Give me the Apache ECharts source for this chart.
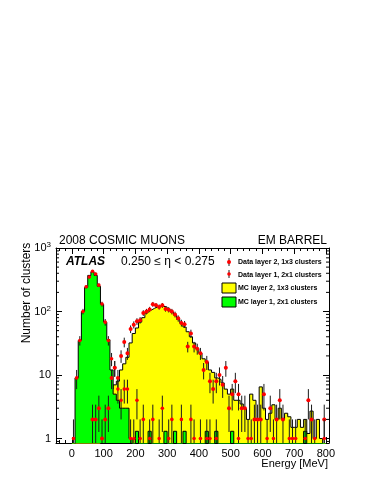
<!DOCTYPE html>
<html>
<head>
<meta charset="utf-8">
<script src="https://cdn.jsdelivr.net/npm/echarts@6/dist/echarts.min.js"></script>
<style>html,body{margin:0;padding:0;background:#fff}#main{width:374px;height:484px}</style>
</head>
<body>
<div id="main"></div>
<script>
// lower bin edges [MeV], 10 MeV bins
const binEdges = [0,10,20,30,40,50,60,70,80,90,100,110,120,130,140,150,160,170,180,190,
  200,210,220,230,240,250,260,270,280,290,300,310,320,330,340,350,360,370,380,390,
  400,410,420,430,440,450,460,470,480,490,500,510,520,530,540,550,560,570,580,590,
  600,610,620,630,640,650,660,670,680,690,700,710,720,730,740,750,760,770,780,790];
const binEnd = 800;

// MC layer 2, 1x3 clusters (yellow)
const mcLayer2 = [0,0,0,0,0,0,0,0,0,1,
  2,4,6,7,8,12,15,19,32,45,
  55,68,80,95,105,112,118,122,120,118,
  108,98,88,75,65,57,48,40,32,26,
  22,18,16,12,11,9,8.5,7.5,6,5,
  6,4,4,3.5,3,2,5,4,2,6.5,
  3,2,2.5,3.4,2,3,2,2.5,2.2,1.5,
  1.5,2,1.5,2,1.2,2.7,1,2,1,0];
// MC layer 1, 2x1 clusters (green)
const mcLayer1 = [0,9,35,100,240,370,420,370,250,130,
  68,36,12,5,4,3,3,3,1,0,
  1.3,0,0,0,1.3,0,0,0,0,1.3,
  0,0,1.3,0,0,1.3,0,0,0,0,
  0,0,1.3,0,0,1.3,0,0,0,0,
  1.3,0,0,0,0,0,0,0,0,0,
  0,0,0,0,0,0,0,0,0,0,
  0,0,0,1.3,0,0,0,0,0,0];
// Data layer 2, 1x3 clusters
const dataLayer2 = [0,0,0,0,0,0,2,2,3,1,
  2,3,9,13,9,20,33,22,53,62,
  70,73,95,100,108,130,125,118,125,110,
  107,100,90,78,66,63,28,45,28,26,
  22,12,16,8,6,8,10,7,13,3,
  5,8,5,3,3,0,0,2,2,2,
  5,0,3,0,2,4,2,0,0,0,
  0,0,0,0,4,2,0,0,0,2];
// Data layer 1, 2x1 clusters
const dataLayer1 = [1,9,35,100,245,350,430,390,260,131,
  68,35,18,13,6,4,6,6,1,1,
  4,1,2,0,1,2,0,1,3,0,
  1,2,0,0,2,0,0,2,1,0,
  1,0,1,1,0,1,0,0,0,0,
  0,0,1,0,0,1,1,0,0,0,
  0,1,0,1,0,0,0,0,1,1,
  1,0,0,1,0,0,1,0,0,1];

const yMinorTicks = [0.9,2,3,4,5,6,7,8,9,20,30,40,50,60,70,80,90,200,300,400,500,600,700,800,900];

const FONT = 'Liberation Sans';
const X_MIN = -50, X_MAX = 810, Y_MIN = 0.85, Y_MAX = 1000, FLOOR = 0.5;

function stepData(vals) {
  const d = binEdges.map((e, i) => [e, vals[i] > 0 ? vals[i] : FLOOR]);
  d.push([binEnd, FLOOR]);
  return d;
}
function pointData(vals) {
  const d = [];
  binEdges.forEach((e, i) => {
    if (vals[i] > 0) d.push([e + 5, vals[i], Math.sqrt(vals[i])]);
  });
  return d;
}
function histSeries(name, vals, fill, z) {
  return {
    name: name, type: 'line', step: 'end', data: stepData(vals),
    symbol: 'none', clip: true, z: z, animation: false,
    lineStyle: { color: '#000', width: 1 },
    areaStyle: { color: fill, opacity: 1, origin: 'start' }
  };
}
function pointsSeries(name, vals, r, z) {
  return {
    name: name, type: 'custom', data: pointData(vals), clip: true, z: z, animation: false,
    renderItem: function (params, api) {
      const x = api.value(0), v = api.value(1), err = api.value(2);
      const lo = v - err > Y_MIN * 0.5 ? v - err : FLOOR;
      const p = api.coord([x, v]);
      const pl = api.coord([x, lo]);
      const ph = api.coord([x, v + err]);
      return {
        type: 'group',
        children: [
          { type: 'line', shape: { x1: p[0], y1: pl[1], x2: p[0], y2: ph[1] }, style: { stroke: '#1a1a1a', lineWidth: 1 } },
          { type: 'circle', shape: { cx: p[0], cy: p[1], r: r }, style: { fill: '#ff0000' } }
        ]
      };
    }
  };
}

const chart = echarts.init(document.getElementById('main'));
const axisCommon = {
  type: 'value', min: X_MIN, max: X_MAX, splitNumber: 9,
  axisLine: { show: true, onZero: false, lineStyle: { color: '#000', width: 1 } },
  axisTick: { show: true, inside: true, length: 6, lineStyle: { color: '#000' } },
  minorTick: { show: true, splitNumber: 5, length: 3, lineStyle: { color: '#000' } },
  splitLine: { show: false }
};
const yCommon = {
  type: 'log', min: Y_MIN, max: Y_MAX, logBase: 10,
  axisLine: { show: true, onZero: false, lineStyle: { color: '#000', width: 1 } },
  axisTick: { show: true, inside: true, length: 6, lineStyle: { color: '#000' } },
  splitLine: { show: false }
};

chart.setOption({
  animation: false,
  backgroundColor: '#fff',
  grid: { left: 56, top: 248, right: 45, bottom: 41 },
  xAxis: [
    Object.assign({}, axisCommon, {
      position: 'bottom',
      axisLabel: { show: true, margin: 5, fontSize: 11, fontFamily: FONT, color: '#000',
        showMinLabel: false, showMaxLabel: false,
        formatter: v => (v % 100 === 0 ? String(v) : '') }
    }),
    Object.assign({}, axisCommon, { position: 'top', axisLabel: { show: false } })
  ],
  yAxis: [
    Object.assign({}, yCommon, {
      position: 'left',
      axisLabel: {
        show: true, margin: 5, fontSize: 11, fontFamily: FONT, color: '#000', showMinLabel: false,
        formatter: function (v) {
          if (Math.abs(v - 1) < 1e-6) return '1';
          if (Math.abs(v - 10) < 1e-6) return '10';
          if (Math.abs(v - 100) < 1e-6) return '{b|10}{s|2}';
          if (Math.abs(v - 1000) < 1e-6) return '{b|10}{s|3}';
          return '';
        },
        rich: {
          b: { fontSize: 11, fontFamily: FONT, color: '#000' },
          s: { fontSize: 8, fontFamily: FONT, color: '#000', padding: [0, 0, 6, 0] }
        }
      }
    }),
    Object.assign({}, yCommon, { position: 'right', axisLabel: { show: false } })
  ],
  series: [
    histSeries('MC layer 2, 1x3 clusters', mcLayer2, '#ffff00', 2),
    histSeries('MC layer 1, 2x1 clusters', mcLayer1, '#00ff00', 3),
    pointsSeries('Data layer 2, 1x3 clusters', dataLayer2, 2, 5),
    pointsSeries('Data layer 1, 2x1 clusters', dataLayer1, 1.8, 5),
    {
      name: 'minor ticks', type: 'custom', z: 6, clip: false, silent: true,
      data: yMinorTicks.map(v => [0, v]),
      renderItem: function (params, api) {
        const v = api.value(1);
        const l = api.coord([X_MIN, v]);
        const r = api.coord([X_MAX, v]);
        return {
          type: 'group',
          children: [
            { type: 'line', shape: { x1: l[0], y1: l[1], x2: l[0] + 3, y2: l[1] }, style: { stroke: '#000', lineWidth: 1 } },
            { type: 'line', shape: { x1: r[0] - 3, y1: r[1], x2: r[0], y2: r[1] }, style: { stroke: '#000', lineWidth: 1 } }
          ]
        };
      }
    }
  ],
  graphic: [
    { type: 'text', style: { text: '2008 COSMIC MUONS', x: 59, y: 241, font: '12px ' + FONT, fill: '#000', textAlign: 'left', textVerticalAlign: 'middle' } },
    { type: 'text', style: { text: 'EM BARREL', x: 327, y: 241, font: '12px ' + FONT, fill: '#000', textAlign: 'right', textVerticalAlign: 'middle' } },
    { type: 'text', style: { text: 'ATLAS', x: 66, y: 262, font: 'italic bold 12px ' + FONT, fill: '#000', textAlign: 'left', textVerticalAlign: 'middle' } },
    { type: 'text', style: { text: '0.250 \u2264 \u03b7 < 0.275', x: 121, y: 262, font: '12px ' + FONT, fill: '#000', textAlign: 'left', textVerticalAlign: 'middle' } },
    { type: 'text', rotation: Math.PI / 2, x: 27, y: 293, style: { text: 'Number of clusters', x: 0, y: 0, font: '12px ' + FONT, fill: '#000', textAlign: 'center', textVerticalAlign: 'middle' } },
    { type: 'text', style: { text: 'Energy [MeV]', x: 328, y: 464, font: '11px ' + FONT, fill: '#000', textAlign: 'right', textVerticalAlign: 'middle' } },
    // legend
    { type: 'line', shape: { x1: 229, y1: 258, x2: 229, y2: 266 }, style: { stroke: '#1a1a1a', lineWidth: 1 } },
    { type: 'circle', shape: { cx: 229, cy: 262, r: 2 }, style: { fill: '#ff0000' } },
    { type: 'text', style: { text: 'Data layer 2, 1x3 clusters', x: 238, y: 262, font: 'bold 7px ' + FONT, fill: '#000', textAlign: 'left', textVerticalAlign: 'middle' } },
    { type: 'line', shape: { x1: 229, y1: 270, x2: 229, y2: 278 }, style: { stroke: '#1a1a1a', lineWidth: 1 } },
    { type: 'circle', shape: { cx: 229, cy: 274, r: 1.8 }, style: { fill: '#ff0000' } },
    { type: 'text', style: { text: 'Data layer 1, 2x1 clusters', x: 238, y: 275, font: 'bold 7px ' + FONT, fill: '#000', textAlign: 'left', textVerticalAlign: 'middle' } },
    { type: 'rect', shape: { x: 222, y: 283, width: 14, height: 10 }, style: { fill: '#ffff00', stroke: '#000', lineWidth: 1 } },
    { type: 'text', style: { text: 'MC layer 2, 1x3 clusters', x: 238, y: 288, font: 'bold 7px ' + FONT, fill: '#000', textAlign: 'left', textVerticalAlign: 'middle' } },
    { type: 'rect', shape: { x: 222, y: 297, width: 14, height: 10 }, style: { fill: '#00ff00', stroke: '#000', lineWidth: 1 } },
    { type: 'text', style: { text: 'MC layer 1, 2x1 clusters', x: 238, y: 302, font: 'bold 7px ' + FONT, fill: '#000', textAlign: 'left', textVerticalAlign: 'middle' } }
  ]
});
</script>
</body>
</html>
